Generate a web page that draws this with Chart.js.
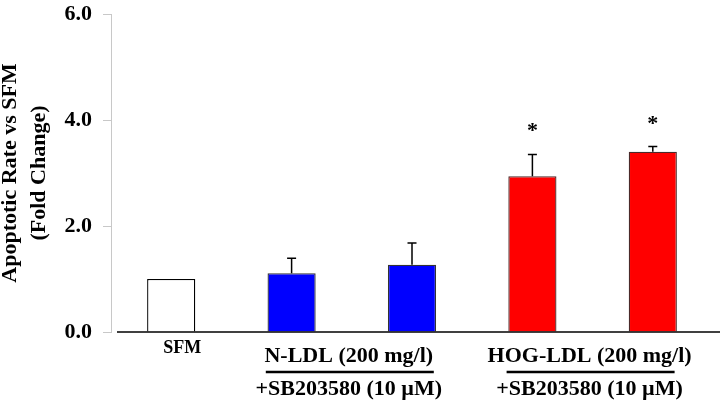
<!DOCTYPE html>
<html>
<head>
<meta charset="utf-8">
<script src="https://cdn.jsdelivr.net/npm/chart.js@4/dist/chart.umd.min.js"></script>
<style>
  html, body { margin: 0; padding: 0; background: #fff; }
  #wrap { width: 720px; height: 403px; }
</style>
</head>
<body>
<div id="wrap"><canvas id="chart" width="720" height="403"></canvas></div>
<script>
// data
var categories = ['SFM', 'N-LDL', 'N-LDL + SB203580', 'HOG-LDL', 'HOG-LDL + SB203580'];
var xTickLabels = ['SFM', '', '', '', ''];
var values = [1.0, 1.11, 1.27, 2.94, 3.40];
var errors = [0, 0.28, 0.41, 0.41, 0.10];
var significant = [false, false, false, true, true];
var fillColors = ['#ffffff', '#0000ff', '#0000ff', '#ff0000', '#ff0000'];
var edgeColors = ['#000000', '#333333', '#333333', '#4a2a2a', '#4a2a2a'];
var yTicks = [0, 2, 4, 6];
var groups = [
  { first: 1, last: 2, title: 'N-LDL (200 mg/l)', sub: '+SB203580 (10 \u00b5M)' },
  { first: 3, last: 4, title: 'HOG-LDL (200 mg/l)', sub: '+SB203580 (10 \u00b5M)' }
];

var serif = '"Liberation Serif", "Times New Roman", serif';

var extrasPlugin = {
  id: 'extras',
  afterDatasetsDraw: function (chart) {
    var ctx = chart.ctx;
    var x = chart.scales.x, y = chart.scales.y;
    var area = chart.chartArea;
    var meta = chart.getDatasetMeta(0);
    var y0 = y.getPixelForValue(0);

    ctx.save();
    // baseline
    ctx.strokeStyle = '#000';
    ctx.lineWidth = 1.6;
    ctx.beginPath();
    ctx.moveTo(area.left + 6, y0);
    ctx.lineTo(chart.width, y0);
    ctx.stroke();

    // error bars + significance marks
    ctx.lineWidth = 1.5;
    meta.data.forEach(function (bar, i) {
      var top = y.getPixelForValue(values[i]);
      var errTop = y.getPixelForValue(values[i] + errors[i]);
      if (errors[i] > 0) {
        ctx.beginPath();
        ctx.moveTo(bar.x, top);
        ctx.lineTo(bar.x, errTop);
        ctx.moveTo(bar.x - 4.5, errTop);
        ctx.lineTo(bar.x + 4.5, errTop);
        ctx.stroke();
      }
      if (significant[i]) {
        ctx.fillStyle = '#000';
        ctx.font = 'bold 22px ' + serif;
        ctx.textAlign = 'center';
        ctx.textBaseline = 'alphabetic';
        ctx.fillText('*', bar.x, errTop - 17);
      }
    });

    // group labels under the axis
    groups.forEach(function (g) {
      var cx = (x.getPixelForValue(g.first) + x.getPixelForValue(g.last)) / 2;
      ctx.fillStyle = '#000';
      ctx.textAlign = 'center';
      ctx.textBaseline = 'alphabetic';
      ctx.font = 'bold 22px ' + serif;
      ctx.fillText(g.title, cx - 3, y0 + 30);
      ctx.lineWidth = 2.6;
      ctx.beginPath();
      ctx.moveTo(cx - 86, y0 + 40);
      ctx.lineTo(cx + 82, y0 + 40);
      ctx.stroke();
      ctx.fillText(g.sub, cx - 3, y0 + 63);
    });
    ctx.restore();
  }
};

new Chart(document.getElementById('chart').getContext('2d'), {
  type: 'bar',
  data: {
    labels: categories,
    datasets: [{
      data: values,
      backgroundColor: fillColors,
      borderColor: edgeColors,
      borderWidth: 1.3,
      categoryPercentage: 1,
      barPercentage: 0.4
    }]
  },
  options: {
    responsive: false,
    animation: false,
    layout: { padding: { top: 14, right: 7, bottom: 0, left: 0 } },
    plugins: {
      legend: { display: false },
      tooltip: { enabled: false }
    },
    scales: {
      x: {
        grid: { display: false, drawTicks: false },
        border: { display: false },
        afterFit: function (s) { s.height = 71; s.paddingLeft = 0; s.paddingRight = 0; },
        ticks: {
          padding: 6,
          labelOffset: 11,
          autoSkip: false,
          maxRotation: 0,
          color: '#000',
          font: { family: serif, size: 18, weight: 'bold' },
          callback: function (v, i) { return xTickLabels[i]; }
        }
      },
      y: {
        min: 0,
        max: 6,
        afterFit: function (s) { s.width = 111; s.paddingTop = 0; s.paddingBottom = 0; },
        afterBuildTicks: function (s) { s.ticks = yTicks.map(function (v) { return { value: v }; }); },
        grid: {
          display: true,
          drawOnChartArea: false,
          drawTicks: true,
          tickLength: 8,
          color: '#c8c8c8'
        },
        border: { display: true, color: '#c8c8c8', width: 1 },
        ticks: {
          padding: 11,
          color: '#000',
          font: { family: serif, size: 22, weight: 'bold' },
          callback: function (v) { return Number(v).toFixed(1); }
        },
        title: {
          display: true,
          text: ['Apoptotic Rate vs SFM', '(Fold Change)'],
          color: '#000',
          padding: { top: -4, bottom: 0 },
          font: { family: serif, size: 22, weight: 'bold', lineHeight: 1.3 }
        }
      }
    }
  },
  plugins: [extrasPlugin]
});
</script>
</body>
</html>
